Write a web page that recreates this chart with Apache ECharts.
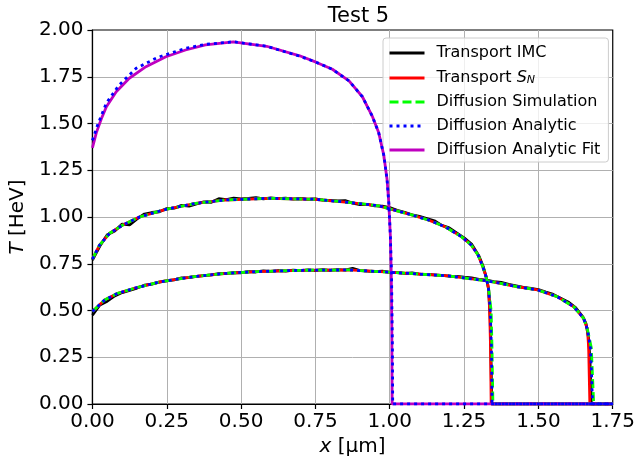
<!DOCTYPE html>
<html>
<head>
<meta charset="utf-8">
<script src="https://cdn.jsdelivr.net/npm/echarts@6/dist/echarts.min.js"></script>
<style>html,body{margin:0;padding:0;background:#fff}#c{width:638px;height:466px}</style>
</head>
<body>
<div id="c"></div>
<script>
// ---------- data ----------
const xTicks = [0, 0.25, 0.5, 0.75, 1.0, 1.25, 1.5, 1.75];
const yTicks = [0, 0.25, 0.5, 0.75, 1.0, 1.25, 1.5, 1.75, 2.0];

// Profile A (earliest, only diffusion analytic + fit)
const xFitA = [0, 0.013, 0.03, 0.047, 0.08, 0.124, 0.18, 0.247, 0.313, 0.38, 0.474, 0.586, 0.697, 0.752, 0.807, 0.863, 0.908, 0.941, 0.963, 0.98, 0.991, 0.997, 1.002, 1.005, 1.007, 1.008, 1.75];
const tFitA = [1.37, 1.45, 1.525, 1.59, 1.67, 1.742, 1.804, 1.857, 1.893, 1.92, 1.937, 1.913, 1.862, 1.828, 1.79, 1.728, 1.643, 1.54, 1.45, 1.33, 1.2, 1.07, 0.9, 0.7, 0.4, 0, 0];
const xAnA = [0, 0.017, 0.047, 0.09, 0.147, 0.22, 0.313, 0.38, 0.474, 0.586, 0.697, 0.752, 0.807, 0.863, 0.908, 0.941, 0.963, 0.98, 0.991, 0.997, 1.002, 1.006, 1.009, 1.01, 1.75];
const tAnA = [1.41, 1.49, 1.61, 1.706, 1.795, 1.854, 1.902, 1.923, 1.937, 1.913, 1.86, 1.828, 1.79, 1.728, 1.643, 1.54, 1.45, 1.33, 1.2, 1.07, 0.9, 0.7, 0.3, 0, 0];

// Profile B (middle)
const xB = [0, 0.024, 0.058, 0.102, 0.158, 0.247, 0.347, 0.447, 0.591, 0.747, 0.869, 0.963, 1.074, 1.13, 1.186, 1.241, 1.274, 1.297, 1.313, 1.324, 1.332];
const tB = [0.775, 0.85, 0.913, 0.957, 1.0, 1.041, 1.073, 1.091, 1.10, 1.095, 1.077, 1.06, 1.011, 0.984, 0.948, 0.895, 0.85, 0.797, 0.734, 0.681, 0.62];
const tailTB = [0.5, 0.3, 0, 0];
const tailXB_SN = [1.336, 1.339, 1.341, 1.75];
const tailXB_Sim = [1.341, 1.344, 1.347, 1.75];
const tailXB_An = [1.338, 1.342, 1.344, 1.75];
const xB_IMC = [0, 0.025, 0.05, 0.075, 0.1, 0.125, 0.15, 0.175, 0.2, 0.225, 0.25, 0.275, 0.3, 0.325, 0.35, 0.375, 0.4, 0.425, 0.45, 0.475, 0.5, 0.525, 0.55, 0.575, 0.6, 0.625, 0.65, 0.675, 0.7, 0.725, 0.75, 0.775, 0.8, 0.825, 0.85, 0.875, 0.9, 0.925, 0.95, 0.975, 1.0, 1.025, 1.05, 1.075, 1.1, 1.125, 1.15, 1.175, 1.2, 1.225, 1.25, 1.275, 1.3, 1.315, 1.325, 1.333, 1.338, 1.341, 1.343, 1.75];
const tB_IMC = [0.77, 0.845, 0.905, 0.925, 0.962, 0.958, 0.99, 1.016, 1.024, 1.028, 1.045, 1.047, 1.062, 1.058, 1.07, 1.081, 1.079, 1.098, 1.093, 1.101, 1.097, 1.099, 1.104, 1.097, 1.102, 1.098, 1.101, 1.096, 1.099, 1.094, 1.097, 1.09, 1.089, 1.086, 1.088, 1.074, 1.066, 1.068, 1.06, 1.058, 1.05, 1.036, 1.025, 1.012, 1.003, 0.992, 0.98, 0.955, 0.942, 0.915, 0.888, 0.855, 0.792, 0.732, 0.675, 0.61, 0.45, 0.2, 0, 0];

// Profile C (latest)
const xC = [0, 0.041, 0.085, 0.141, 0.23, 0.341, 0.452, 0.552, 0.7, 0.863, 0.997, 1.197, 1.33, 1.43, 1.497, 1.563, 1.619, 1.652, 1.665];
const tC = [0.495, 0.556, 0.592, 0.619, 0.654, 0.681, 0.699, 0.708, 0.715, 0.717, 0.705, 0.685, 0.658, 0.627, 0.61, 0.574, 0.52, 0.458, 0.40];
const tailTC = [0.3, 0.15, 0, 0];
const tailXC_SN = [1.669, 1.671, 1.673, 1.75];
const tailXC_Sim = [1.678, 1.682, 1.686, 1.75];
const tailXC_An = [1.675, 1.679, 1.682, 1.75];
const xC_IMC = [0, 0.025, 0.05, 0.075, 0.1, 0.125, 0.15, 0.175, 0.2, 0.225, 0.25, 0.275, 0.3, 0.325, 0.35, 0.375, 0.4, 0.425, 0.45, 0.475, 0.5, 0.525, 0.55, 0.575, 0.6, 0.625, 0.65, 0.675, 0.7, 0.725, 0.75, 0.775, 0.8, 0.825, 0.85, 0.875, 0.9, 0.925, 0.95, 0.975, 1.0, 1.025, 1.05, 1.075, 1.1, 1.125, 1.15, 1.175, 1.2, 1.225, 1.25, 1.275, 1.3, 1.325, 1.35, 1.375, 1.4, 1.425, 1.45, 1.475, 1.5, 1.525, 1.55, 1.575, 1.6, 1.625, 1.65, 1.66, 1.668, 1.673, 1.676, 1.678, 1.75];
const tC_IMC = [0.475, 0.53, 0.55, 0.578, 0.596, 0.608, 0.62, 0.635, 0.641, 0.652, 0.659, 0.664, 0.674, 0.676, 0.683, 0.687, 0.69, 0.697, 0.697, 0.703, 0.702, 0.708, 0.706, 0.712, 0.709, 0.713, 0.711, 0.716, 0.713, 0.717, 0.714, 0.718, 0.714, 0.719, 0.716, 0.726, 0.713, 0.711, 0.708, 0.71, 0.704, 0.702, 0.699, 0.701, 0.694, 0.693, 0.69, 0.688, 0.684, 0.683, 0.678, 0.675, 0.667, 0.662, 0.654, 0.65, 0.64, 0.632, 0.624, 0.618, 0.612, 0.598, 0.586, 0.566, 0.546, 0.516, 0.465, 0.43, 0.36, 0.25, 0.1, 0, 0];

// ---------- helpers ----------
const zip = (xs, ys) => xs.map((x, i) => [x, ys[i]]);
const withTail = (xs, ys, tx, ty) => zip(xs.concat(tx), ys.concat(ty));

const N_IMC = 'Transport IMC', N_SN = 'Transport SN', N_SIM = 'Diffusion Simulation', N_AN = 'Diffusion Analytic', N_FIT = 'Diffusion Analytic Fit';
const LW = 2.8;
function line(name, data, color, type, z) {
  return {
    name, type: 'line', data, symbol: 'none', showSymbol: false, animation: false, z: z,
    lineStyle: { color, width: LW, type: type || 'solid', cap: 'butt' },
    itemStyle: { color }
  };
}
const DASH = [9, 4], DOT = [3, 4];

const series = [
  line(N_IMC, zip(xB_IMC, tB_IMC), '#000000', 'solid', 2),
  line(N_IMC, zip(xC_IMC, tC_IMC), '#000000', 'solid', 2),
  line(N_SN, withTail(xB, tB, tailXB_SN, tailTB), '#ff0000', 'solid', 3),
  line(N_SN, withTail(xC, tC, tailXC_SN, tailTC), '#ff0000', 'solid', 3),
  line(N_SIM, withTail(xB, tB, tailXB_Sim, tailTB), '#00ff00', DASH, 4),
  line(N_SIM, withTail(xC, tC, tailXC_Sim, tailTC), '#00ff00', DASH, 4),
  line(N_FIT, zip(xFitA, tFitA), '#bf00bf', 'solid', 5),
  line(N_AN, zip(xAnA, tAnA), '#0000ff', DOT, 6),
  line(N_AN, withTail(xB, tB, tailXB_An, tailTB), '#0000ff', DOT, 6),
  line(N_AN, withTail(xC, tC, tailXC_An, tailTC), '#0000ff', DOT, 6)
];

const FONT = 'DejaVu Sans';
const chart = echarts.init(document.getElementById('c'), null, { renderer: 'canvas' });
chart.setOption({
  animation: false,
  backgroundColor: '#ffffff',
  textStyle: { fontFamily: FONT },
  title: {
    text: 'Test 5', left: 353.5, textAlign: 'center', top: 1,
    textStyle: { fontFamily: FONT, fontSize: 21, fontWeight: 'normal', color: '#000' }
  },
  grid: { left: 91, right: 22, top: 30, bottom: 62, show: true, borderColor: '#000', borderWidth: 1.2, backgroundColor: 'transparent', containLabel: false },
  legend: {
    data: [N_IMC, N_SN, N_SIM, N_AN, N_FIT],
    orient: 'vertical', left: 383, top: 38,
    padding: [7, 8, 4, 5],
    itemWidth: 35, itemHeight: 14, itemGap: 8,
    backgroundColor: 'rgba(255,255,255,0.8)', borderColor: '#cccccc', borderWidth: 1, borderRadius: 3,
    itemStyle: { color: 'rgba(0,0,0,0)', borderColor: 'rgba(0,0,0,0)', borderWidth: 0 },
    lineStyle: { width: 3 },
    formatter: function (name) {
      if (name === N_SN) return '{t|Transport }{i|S}{s|N}';
      return '{t|' + name + '}';
    },
    textStyle: {
      fontFamily: FONT, fontSize: 16, color: '#000', padding: [0, 0, 0, 7],
      rich: {
        t: { fontFamily: FONT, fontSize: 16, color: '#000', lineHeight: 16 },
        i: { fontFamily: FONT, fontSize: 16, fontStyle: 'italic', color: '#000', lineHeight: 16 },
        s: { fontFamily: FONT, fontSize: 11, fontStyle: 'italic', color: '#000', lineHeight: 10, verticalAlign: 'bottom', padding: [6, 0, 0, 0] }
      }
    }
  },
  xAxis: {
    type: 'value', min: 0, max: 1.75, interval: 0.25,
    name: '{i|x} [µm]', nameLocation: 'middle', nameGap: 29,
    nameTextStyle: {
      fontFamily: FONT, fontSize: 20, color: '#000',
      rich: { i: { fontFamily: FONT, fontSize: 20, fontStyle: 'italic', color: '#000' } }
    },
    axisLine: { show: true, onZero: false, lineStyle: { color: '#000', width: 1.2 } },
    axisTick: { show: true, inside: false, length: 5, lineStyle: { color: '#000', width: 1.2 } },
    axisLabel: { margin: 8, fontFamily: FONT, fontSize: 20, color: '#000', formatter: v => v.toFixed(2) },
    splitLine: { show: true, showMinLine: false, showMaxLine: false, lineStyle: { color: '#b0b0b0', width: 1 } }
  },
  yAxis: {
    type: 'value', min: 0, max: 2.0, interval: 0.25,
    name: '{i|T} [HeV]', nameLocation: 'middle', nameGap: 62, nameRotate: 90,
    nameTextStyle: {
      fontFamily: FONT, fontSize: 20, color: '#000',
      rich: { i: { fontFamily: FONT, fontSize: 20, fontStyle: 'italic', color: '#000' } }
    },
    axisLine: { show: true, onZero: false, lineStyle: { color: '#000', width: 1.2 } },
    axisTick: { show: true, inside: false, length: 5, lineStyle: { color: '#000', width: 1.2 } },
    axisLabel: { margin: 9, fontFamily: FONT, fontSize: 20, color: '#000', formatter: v => v.toFixed(2) },
    splitLine: { show: true, showMinLine: false, showMaxLine: false, lineStyle: { color: '#b0b0b0', width: 1 } }
  },
  series
});
</script>
</body>
</html>
